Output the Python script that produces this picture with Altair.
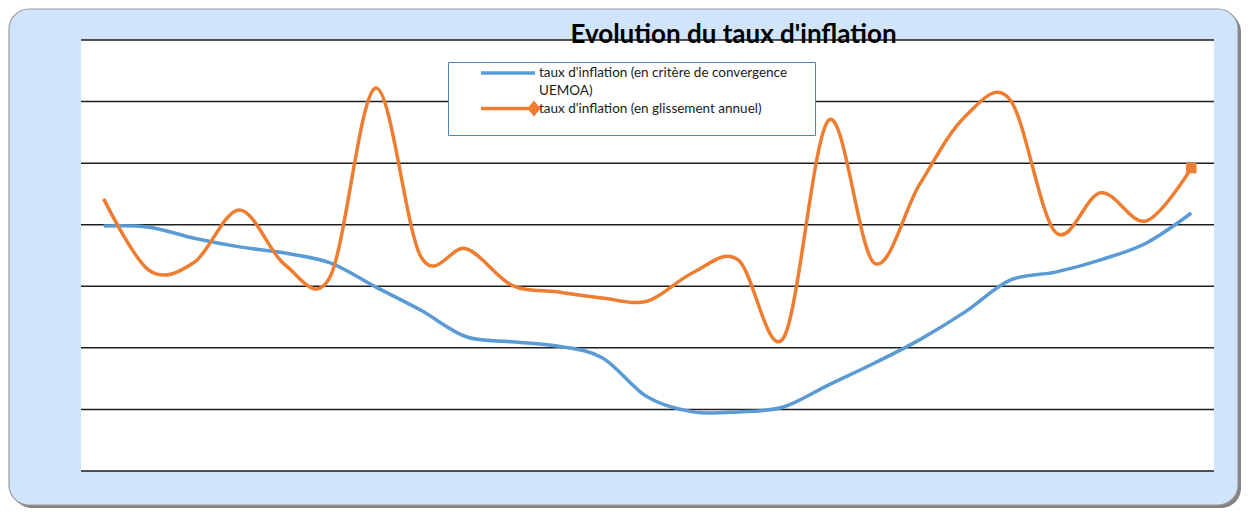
import altair as alt
import pandas as pd

# ---- data ----
mois = list(range(1, 26))
series = [
    "taux d'inflation (en critère de convergence UEMOA)",
    "taux d'inflation (en glissement annuel)",
]
uemoa = [3.98, 3.96, 3.78, 3.64, 3.54, 3.38, 2.99, 2.61, 2.18, 2.10, 2.03, 1.84, 1.20,
         0.96, 0.96, 1.04, 1.40, 1.75, 2.13, 2.58, 3.10, 3.23, 3.43, 3.70, 4.19]
glissement = [4.42, 3.26, 3.39, 4.24, 3.35, 3.16, 6.22, 3.48, 3.61, 3.02, 2.91, 2.81, 2.76,
              3.22, 3.43, 2.16, 5.70, 3.38, 4.65, 5.75, 6.03, 3.88, 4.52, 4.06, 4.92]
grid_values = [0, 1, 2, 3, 4, 5, 6, 7]
title_text = "Evolution du taux d'inflation"
colors = ["#5B9BD5", "#ED7D31"]

rows = []
for i, m in enumerate(mois):
    rows.append({"mois": m, "serie": series[0], "taux": uemoa[i]})
for i, m in enumerate(mois):
    rows.append({"mois": m, "serie": series[1], "taux": glissement[i]})
df = pd.DataFrame(rows)

W, H = 1133, 431
x_scale = alt.Scale(domain=[0.5, 25.5], nice=False, zero=False)
y_scale = alt.Scale(domain=[0, 7], nice=False, zero=False)

one = pd.DataFrame({"k": [0]})

shadow = alt.Chart(one).mark_rect(cornerRadius=20, fill="#5a5a5a", opacity=0.75).encode(
    x=alt.value(-69), x2=alt.value(W + 27), y=alt.value(-28), y2=alt.value(H + 37))
box = alt.Chart(one).mark_rect(cornerRadius=20, fill="#D0E4FC", stroke="#9a9a9a",
                               strokeWidth=1.2).encode(
    x=alt.value(-72), x2=alt.value(W + 24), y=alt.value(-31), y2=alt.value(H + 34))
plotbg = alt.Chart(one).mark_rect(fill="white").encode(
    x=alt.value(0), x2=alt.value(W), y=alt.value(0), y2=alt.value(H))

grid = alt.Chart(pd.DataFrame({"g": grid_values})).mark_rule(
    color="#1e1e1e", strokeWidth=1.5).encode(
    y=alt.Y("g:Q", scale=y_scale, axis=None),
    x=alt.value(0), x2=alt.value(W))

# legend symbols: a line (and a diamond for the second series); the trailing
# move-to only widens the legend frame to the reference's width
blue_sym = "M3.036,0H10.489M47.89,0"
orange_sym = ("M3.036,0H9.744M10.351,-0.718L10.958,0L10.351,0.718L9.744,0Z"
              "M10.351,-0.4V0.4M47.89,0")

legend = alt.Legend(
    title=None, orient="none", legendX=367, legendY=22,
    fillColor="white", strokeColor="#4F81BD", padding=2,
    symbolSize=210, symbolStrokeWidth=3.5,
    symbolType=alt.ExprRef(f"datum.index == 0 ? '{blue_sym}' : '{orange_sym}'"),
    labelExpr=("datum.index == 0 ? [\"taux d'inflation (en critère de convergence\", "
               "\"UEMOA)\"] : [datum.label, \"\"]"),
    labelFont="Lato", labelFontSize=13.5, labelColor="#1a1a1a", labelOffset=71,
    labelLimit=600, rowPadding=-2.5,
)

lines = alt.Chart(df).mark_line(interpolate="cardinal", strokeWidth=3.5).encode(
    x=alt.X("mois:Q", scale=x_scale, axis=None),
    y=alt.Y("taux:Q", scale=y_scale, axis=None),
    color=alt.Color("serie:N", scale=alt.Scale(domain=series, range=colors), legend=legend),
    detail="serie:N",
)

end_marker = alt.Chart(df).transform_filter(
    (alt.datum.serie == series[1]) & (alt.datum.mois == mois[-1])
).mark_point(shape="square", filled=True, size=110, color=colors[1], opacity=1).encode(
    x=alt.X("mois:Q", scale=x_scale, axis=None),
    y=alt.Y("taux:Q", scale=y_scale, axis=None),
)

chart = alt.layer(shadow, box, plotbg, grid, lines, end_marker).properties(
    width=W, height=H,
    title=alt.TitleParams(title_text, font="Lato", fontSize=26, fontWeight="bold",
                          color="black", anchor="middle", frame="group", dx=86,
                          baseline="alphabetic", offset=0, dy=61),
    autosize=alt.AutoSizeParams(type="none"),
    padding={"left": 73, "top": 32, "right": 27, "bottom": 37},
).configure(
    background="white",
    style={"guide-label": {"lineHeight": 18}},
).configure_view(stroke=None)

chart.save("out.html", embed_options={"renderer": "svg", "actions": False})
